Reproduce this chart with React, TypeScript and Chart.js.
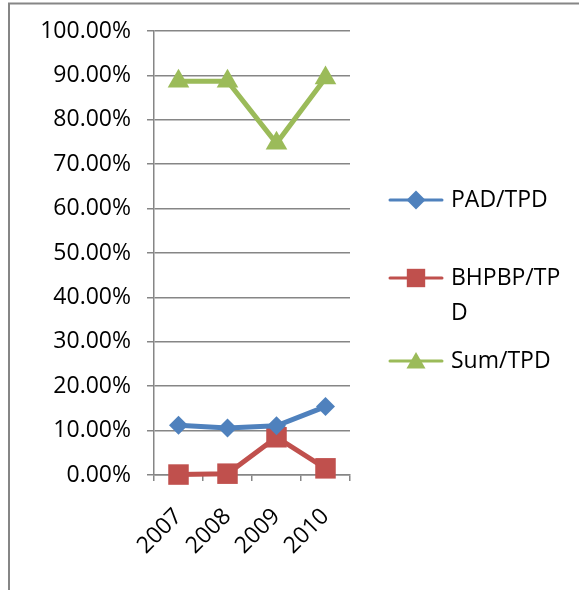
import { useEffect, useRef } from 'react';
import { Chart, registerables } from 'chart.js';

Chart.register(...registerables);

const categories = ['2007', '2008', '2009', '2010'];
const padTpd = [11.2, 10.6, 11.1, 15.4];
const bhpbpTpd = [0.1, 0.3, 8.5, 1.5];
const sumTpd = [88.7, 88.7, 74.7, 89.4];
const seriesNames = ['PAD/TPD', 'BHPBP/TPD', 'Sum/TPD'];
const legendTextLines = [['PAD/TPD'], ['BHPBP/TP', 'D'], ['Sum/TPD']];
const yMin = 0;
const yMax = 100;
const yStep = 10;

const BLUE = '#4F81BD';
const RED = '#C0504D';
const GREEN = '#9BBB59';
const GRAY = '#868686';
const FONT = '"Open Sans", "Liberation Sans", sans-serif';
const FONT_SIZE = 23;

function drawMarker(ctx: CanvasRenderingContext2D, style: string, x: number, y: number, r: number) {
  ctx.beginPath();
  if (style === 'rectRot') {
    ctx.moveTo(x - r, y);
    ctx.lineTo(x, y - r);
    ctx.lineTo(x + r, y);
    ctx.lineTo(x, y + r);
  } else if (style === 'rect') {
    const s = r * Math.SQRT1_2;
    ctx.rect(x - s, y - s, 2 * s, 2 * s);
  } else {
    ctx.moveTo(x, y - r);
    ctx.lineTo(x + 0.866 * r, y + 0.5 * r);
    ctx.lineTo(x - 0.866 * r, y + 0.5 * r);
  }
  ctx.closePath();
  ctx.fill();
}

const framePlugin = {
  id: 'frame',
  beforeDraw(chart: any) {
    const ctx = chart.ctx;
    ctx.save();
    ctx.fillStyle = '#ffffff';
    ctx.fillRect(0, 0, chart.width, chart.height);
    ctx.strokeStyle = GRAY;
    ctx.lineWidth = 2;
    ctx.beginPath();
    ctx.moveTo(9, chart.height);
    ctx.lineTo(9, 3.5);
    ctx.lineTo(chart.width, 3.5);
    ctx.stroke();
    ctx.restore();
  },
};

const legendPlugin = {
  id: 'customLegend',
  afterDraw(chart: any) {
    const ctx = chart.ctx;
    const ys = [200, 278, 361];
    ctx.save();
    chart.data.datasets.forEach((ds: any, i: number) => {
      const y = ys[i];
      ctx.strokeStyle = ds.borderColor;
      ctx.lineWidth = 3;
      ctx.lineCap = 'round';
      ctx.beginPath();
      ctx.moveTo(390, y);
      ctx.lineTo(442, y);
      ctx.stroke();
      ctx.fillStyle = ds.backgroundColor;
      const r = ds.pointStyle === 'rect' ? 13 : ds.pointStyle === 'triangle' ? 11 : 9.5;
      drawMarker(ctx, ds.pointStyle, 416, ds.pointStyle === 'triangle' ? y + 2 : y, r);
      ctx.fillStyle = '#000000';
      ctx.font = `${FONT_SIZE}px ${FONT}`;
      ctx.textBaseline = 'middle';
      ctx.textAlign = 'left';
      legendTextLines[i].forEach((t, k) => {
        ctx.fillText(t, 451, y + k * 35);
      });
    });
    ctx.restore();
  },
};

export default function App() {
  const ref = useRef<HTMLCanvasElement | null>(null);
  useEffect(() => {
    if (!ref.current) return;
    const mk = (label: string, data: number[], color: string, style: string, radius: number) => ({
      label,
      data,
      borderColor: color,
      backgroundColor: color,
      borderWidth: 5,
      pointStyle: style,
      pointRadius: radius,
      pointHoverRadius: radius,
      pointBorderWidth: 0,
      pointBackgroundColor: color,
      tension: 0,
      clip: false,
    });
    const chart = new Chart(ref.current, {
      type: 'line',
      data: {
        labels: categories,
        datasets: [
          mk(seriesNames[0], padTpd, BLUE, 'rectRot', 9.5),
          mk(seriesNames[1], bhpbpTpd, RED, 'rect', 14.5),
          mk(seriesNames[2], sumTpd, GREEN, 'triangle', 12.5),
        ],
      },
      options: {
        responsive: false,
        animation: false,
        devicePixelRatio: 1,
        layout: { padding: { top: 31, right: 229, left: 0, bottom: 0 } },
        plugins: { legend: { display: false }, tooltip: { enabled: false } },
        scales: {
          x: {
            offset: true,
            afterFit: (s: any) => { s.height = 115; },
            grid: { display: true, offset: true, drawOnChartArea: false, drawTicks: true, tickLength: 6, color: GRAY, lineWidth: 1.5 },
            border: { display: true, color: GRAY, width: 1.5 },
            ticks: { minRotation: 45, maxRotation: 45, autoSkip: false, padding: 22, color: '#000', font: { family: FONT, size: FONT_SIZE } },
          },
          y: {
            min: yMin,
            max: yMax,
            afterFit: (s: any) => { s.width = 154; },
            grid: { color: GRAY, lineWidth: 1.5, drawTicks: true, tickLength: 7 },
            border: { display: true, color: GRAY, width: 1.5 },
            ticks: { stepSize: yStep, padding: 16, color: '#000', font: { family: FONT, size: FONT_SIZE }, callback: (v: any) => Number(v).toFixed(2) + '%' },
          },
        },
      },
      plugins: [framePlugin, legendPlugin],
    } as any);
    return () => chart.destroy();
  }, []);
  return (
    <div style={{ position: 'absolute', left: 0, top: 0, width: 579, height: 590 }}>
      <canvas ref={ref} width={579} height={590} style={{ display: 'block' }} />
    </div>
  );
}
